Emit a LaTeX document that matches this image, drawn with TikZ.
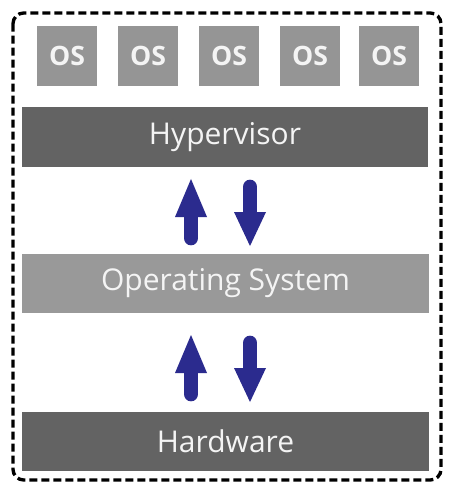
\documentclass[tikz,border=0pt]{standalone}
\usepackage{fontspec}
\setmainfont{Open Sans}
\definecolor{osgray}{HTML}{959595}
\definecolor{darkbar}{HTML}{636363}
\definecolor{lightbar}{HTML}{999999}
\definecolor{arrowblue}{HTML}{2B2B8E}
\definecolor{labelwhite}{HTML}{F4F4F4}
\begin{document}
\begin{tikzpicture}[x=0.75pt,y=-0.75pt,
  osbox/.style={fill=osgray, draw=none, minimum width=45pt, minimum height=45pt,
    inner sep=0pt, text=labelwhite, font=\fontsize{20}{24}\selectfont\bfseries},
  layer/.style={draw=none, minimum width=305pt, minimum height=44.5pt,
    inner sep=0pt, text=labelwhite, font=\fontsize{22.5}{27}\selectfont},
  frame/.style={draw=black, line width=2.5pt, dash pattern=on 6pt off 3pt,
    rounded corners=8pt},
  uparr/.pic={
    \draw[arrowblue, line width=11pt, line cap=round] (0,59) -- (0,30);
    \fill[arrowblue] (-16,38) -- (0,0) -- (16,38) -- cycle;
  },
  downarr/.pic={
    \draw[arrowblue, line width=11pt, line cap=round] (0,7) -- (0,36);
    \fill[arrowblue] (-16,32) -- (0,66) -- (16,32) -- cycle;
  }]
  % canvas
  \fill[white] (0,0) rectangle (452,488);
  \useasboundingbox (0,0) rectangle (452,488);

  % dashed enclosure
  \draw[frame] (13,13) rectangle (441,480);

  % guest operating systems
  \foreach \i/\cx in {1/67, 2/148, 3/229, 4/310, 5/389}
    \node[osbox] (os\i) at (\cx,56) {OS};

  % layers
  \node[layer, fill=darkbar] (hyp) at (225,137) {Hypervisor};
  \node[layer, fill=lightbar, minimum height=44.25pt] (hostos) at (225.5,283.5) {Operating System};
  \node[layer, fill=darkbar, minimum height=44.25pt] (hw) at (225.5,441.5) {Hardware};

  % traffic between layers
  \pic at (191,179) {uparr};
  \pic at (250,180) {downarr};
  \pic at (191,335) {uparr};
  \pic at (250,336) {downarr};
\end{tikzpicture}
\end{document}
